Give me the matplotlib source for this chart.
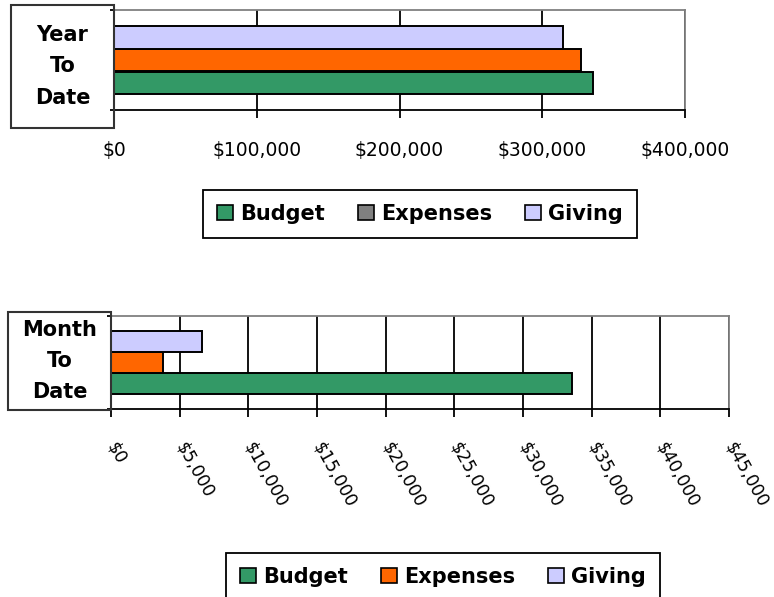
import matplotlib.pyplot as plt
from matplotlib.patches import Patch, Rectangle
from matplotlib.ticker import FuncFormatter

# data
series = ["Budget", "Expenses", "Giving"]
ytd_label = "Year\nTo\nDate"
mtd_label = "Month\nTo\nDate"
ytd_values = [335600, 327000, 314500]
mtd_values = [33560, 3780, 6620]
ytd_ticks = [0, 100000, 200000, 300000, 400000]
mtd_ticks = [0, 5000, 10000, 15000, 20000, 25000, 30000, 35000, 40000, 45000]

colors = ["#339966", "#FF6600", "#CCCCFF"]
ytd_legend_colors = ["#339966", "#808080", "#CCCCFF"]  # the top legend shows Expenses grey
offsets = [-0.225, 0.0, 0.225]
bar_h = 0.22

W, H = 774, 597
plt.rcParams['font.family'] = 'DejaVu Sans'


def px_rect(l, t, r, b):
    return [l / W, 1 - b / H, (r - l) / W, (b - t) / H]


def money(x, pos):
    return "${:,.0f}".format(x)


def draw_panel(ax, values, ticks):
    for val, off, col in zip(values, offsets, colors):
        ax.barh(off, val, height=bar_h, color=col, edgecolor='black', linewidth=1.4, zorder=3)
    ax.set_xlim(ticks[0], ticks[-1])
    ax.set_ylim(-0.5, 0.5)
    ax.set_xticks(ticks)
    ax.xaxis.set_major_formatter(FuncFormatter(money))
    ax.set_yticks([-0.5, 0.5])
    ax.set_yticklabels([])
    ax.grid(axis='x', color='black', linewidth=1.3, zorder=1)
    ax.set_axisbelow(True)
    for s in ['top', 'right']:
        ax.spines[s].set_color('#808080')
        ax.spines[s].set_linewidth(1.3)
    for s in ['left', 'bottom']:
        ax.spines[s].set_color('black')
        ax.spines[s].set_linewidth(1.3)
    ax.tick_params(axis='x', direction='out', length=6, width=1.3, labelsize=13.5)
    ax.tick_params(axis='y', direction='out', length=3, width=1.3)


def label_box(fig, l, t, r, b, text):
    fig.patches.append(Rectangle((l / W, 1 - b / H), (r - l) / W, (b - t) / H,
                                 transform=fig.transFigure, fill=False,
                                 edgecolor='#333333', linewidth=1.5))
    fig.text((l + r) / 2 / W, 1 - (t + b) / 2 / H, text, ha='center', va='center',
             fontsize=15, fontweight='bold', linespacing=1.7)


def legend(fig, colors_, cx, cy):
    handles = [Patch(facecolor=c, edgecolor='black', linewidth=1.2) for c in colors_]
    leg = fig.legend(handles, series, loc='center', bbox_to_anchor=(cx / W, 1 - cy / H),
                     ncol=3, frameon=True, fancybox=False, edgecolor='black', framealpha=1,
                     prop={'weight': 'bold', 'size': 15}, handlelength=0.75, handleheight=0.75,
                     handletextpad=0.35, columnspacing=1.6, borderpad=0.65)
    leg.get_frame().set_linewidth(1.3)
    return leg


fig = plt.figure(figsize=(W / 100, H / 100), dpi=100)

# Year to date
ax1 = fig.add_axes(px_rect(114, 10, 685, 110))
draw_panel(ax1, ytd_values, ytd_ticks)
ax1.tick_params(axis='x', pad=16)
label_box(fig, 11, 5, 114, 128, ytd_label)
legend(fig, ytd_legend_colors, 420, 214)

# Month to date
ax2 = fig.add_axes(px_rect(111, 316, 729, 409))
draw_panel(ax2, mtd_values, mtd_ticks)
ax2.tick_params(axis='x', pad=19, labelsize=12.5)
for lab in ax2.get_xticklabels():
    lab.set_rotation(-61)
    lab.set_ha('left')
    lab.set_va('center')
    lab.set_rotation_mode('anchor')
label_box(fig, 8, 312, 111, 410, mtd_label)
legend(fig, colors, 443, 577)

fig.savefig('out.png', dpi=100)
